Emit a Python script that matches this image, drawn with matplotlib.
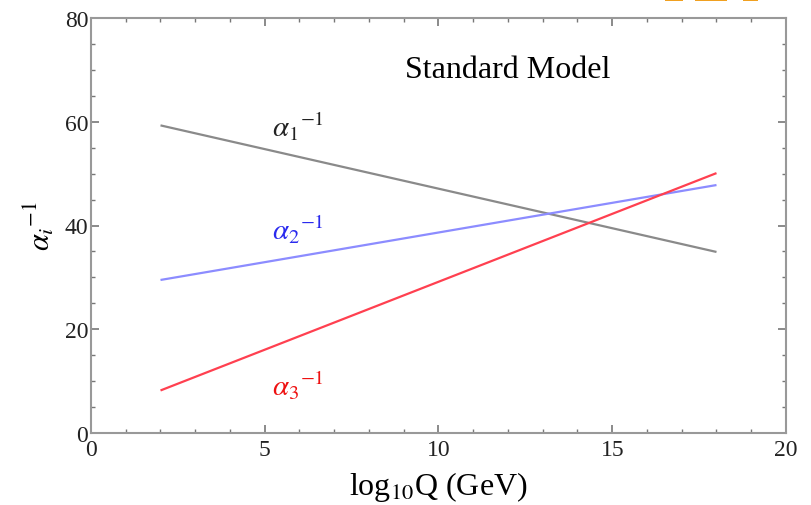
import numpy as np
import matplotlib.pyplot as plt
from matplotlib.patches import Rectangle

plt.rcParams['mathtext.fontset'] = 'stix'
plt.rcParams['font.family'] = 'Liberation Serif'

# data
log_q = [2, 18]
alpha1_inv = [59.3, 34.9]
alpha2_inv = [29.5, 47.8]
alpha3_inv = [8.2, 50.1]

line_colors = ['#8a8a8a', '#8c8cff', '#ff4050']
label_colors = ['#222222', '#2a2aee', '#ee1111']
labels = [r'$\alpha_1{}^{-1}$', r'$\alpha_2{}^{-1}$', r'$\alpha_3{}^{-1}$']
label_pos = [(5.96, 59.1), (5.96, 39.3), (5.96, 9.2)]

fig = plt.figure(figsize=(8.12, 5.06), dpi=100)
ax = fig.add_axes([91/812, 1 - 434/506, (786 - 91)/812, (434 - 19)/506])

for y, c in zip([alpha1_inv, alpha2_inv, alpha3_inv], line_colors):
    ax.plot(log_q, y, color=c, lw=1.6, solid_capstyle='butt')

for txt, (x, y), c in zip(labels, label_pos, label_colors):
    ax.text(x, y, txt, color=c, fontsize=21, ha='center', va='center')

ax.text(12.0, 70.1, 'Standard Model', fontsize=23, ha='center', va='center')

ax.set_xlim(0, 20)
ax.set_ylim(0, 80)
ax.set_xticks(np.arange(0, 21, 5))
ax.set_xticks(np.arange(0, 21, 1), minor=True)
ax.set_yticks(np.arange(0, 81, 20))
ax.set_yticks(np.arange(0, 81, 5), minor=True)

frame_col = '#999999'
for s in ax.spines.values():
    s.set_color(frame_col)
    s.set_linewidth(1.5)
ax.tick_params(which='both', direction='in', top=True, right=True,
               color='#777777', labelsize=17, labelcolor='#222222')
ax.tick_params(which='major', length=6, width=1.2)
ax.tick_params(axis='x', which='major', pad=4)
ax.tick_params(axis='y', which='major', pad=2)
ax.tick_params(which='minor', length=3, width=1.0)

fig.text(438/812, 1 - 487/506, r'log$_{10}$Q (GeV)', fontsize=23,
         ha='center', va='center')
fig.text(40/812, 1 - 226/506, r'$\alpha_i{}^{-1}$', fontsize=22,
         rotation=90, ha='center', va='center')

# cut-off logo at the top edge
for x0, w in [(665, 18), (695, 32), (743, 15)]:
    fig.patches.append(Rectangle((x0/812, 1 - 2/506), w/812, 2/506,
                                 transform=fig.transFigure, color='#f0a020',
                                 lw=0))

fig.savefig('out.png', dpi=100)
